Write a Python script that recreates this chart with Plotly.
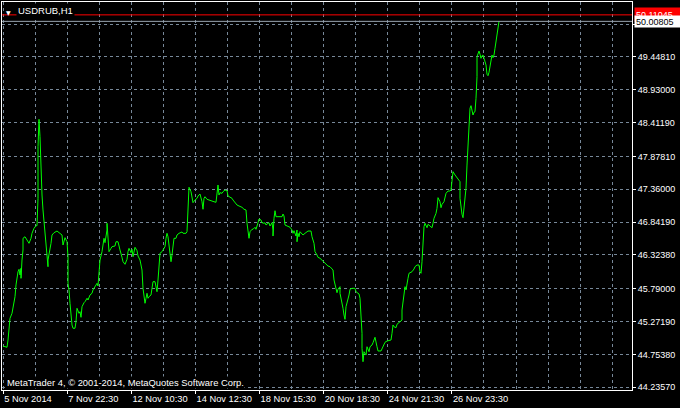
import plotly.graph_objects as go

# ---- data ----
symbol = "USDRUB,H1"
bar = [1,5,6,7,8,10,11,12,13,14,15,16,17,18,19,19,20,21,21,23,25,27,29,30,32,34,35,36,36,37,38,39,40,41,42,43,44,45,46,46,47,49,50,52,55,56,58,60,61,62,63,65,66,66,67,68,69,70,71,73,74,75,77,78,79,80,82,83,85,86,88,90,91,93,95,96,97,98,100,101,102,103,105,105,106,107,109,110,113,114,116,117,118,120,121,123,125,126,127,129,130,131,132,133,135,136,138,139,140,141,142,143,144,145,146,147,149,150,151,153,154,155,156,157,158,160,161,163,164,165,166,167,169,169,170,171,172,174,175,177,180,181,184,185,186,187,189,190,191,193,195,196,198,200,201,202,203,205,207,210,212,214,215,216,217,218,220,221,223,225,226,228,230,231,233,235,237,240,242,244,245,246,247,248,250,251,253,254,255,256,257,259,260,262,263,264,266,267,268,270,271,271,272,273,274,276,279,280,281,282,283,285,286,288,290,291,292,294,295,295,296,297,298,300,301,303,305,306,309,310,312,313,315,316,318,320,321,323,325,326,328,330,331,332,334,335,336,338,338,340,341,342,343,344,346,347,348,350,353,354,356,357,358,359,360,360,361,362,364,365,366,367,368,370,371,373,375,376,379,380,382,383,385,389,390,391,392,394,395,396,398,400,400,401,402,403,404,405,406,407,410,412,413,415,417,418,419,420,421,422,422,423,425,426,428,430,431,432,434,435,436,438,439,440,442,443,444,446,448,449,450,451,453,455,456,458,458,459,460,461,462,464,465,466,467,468,469,470,471,472,473,474,475,475,476,477,478,479,480,481,482,483,484,485,486,487,488,489,490,491,492,493,494,495,496,497]
close = [44.887,44.867,44.982,45.192,45.324,45.403,45.487,45.545,45.665,45.850,46.007,46.059,46.097,46.007,46.113,45.955,46.244,46.402,46.586,46.611,46.559,46.507,46.586,46.665,46.744,46.785,46.785,47.217,48.031,48.463,48.189,47.663,47.269,47.033,46.823,46.690,46.507,46.271,46.138,46.244,46.323,46.507,46.638,46.674,46.701,46.690,46.665,46.638,46.480,46.532,46.596,46.532,46.296,45.876,45.771,45.561,45.350,45.219,45.167,45.167,45.271,45.482,45.403,45.428,45.340,45.507,45.570,45.586,45.640,45.613,45.692,45.719,45.771,45.823,45.876,45.834,46.059,46.244,46.375,46.532,46.586,46.517,46.717,46.823,46.507,46.375,46.428,46.454,46.465,46.532,46.532,46.454,46.402,46.286,46.217,46.176,46.255,46.375,46.428,46.359,46.413,46.296,46.375,46.444,46.391,46.307,46.244,46.138,46.086,45.797,45.640,45.561,45.640,45.719,45.640,45.665,45.692,45.834,45.902,45.902,45.834,45.744,45.928,46.165,46.350,46.375,46.402,46.454,46.586,46.665,46.611,46.480,46.296,46.217,46.323,46.454,46.586,46.586,46.638,46.665,46.686,46.665,46.665,46.690,47.138,47.391,47.321,47.217,47.148,47.190,47.217,47.253,47.285,47.163,47.044,47.217,47.242,47.201,47.190,47.163,47.163,47.154,47.359,47.427,47.269,47.305,47.296,47.321,47.348,47.337,47.253,47.233,47.217,47.190,47.148,47.111,47.096,47.075,47.044,47.033,46.823,46.690,46.586,46.690,46.728,46.728,46.760,46.728,46.769,46.832,46.891,46.875,46.832,46.823,46.832,46.796,46.823,46.832,46.780,46.832,46.717,46.622,46.902,47.021,46.927,46.927,46.938,46.927,46.969,46.938,46.796,46.780,46.769,46.760,46.717,46.665,46.706,46.622,46.717,46.532,46.665,46.611,46.690,46.665,46.638,46.665,46.681,46.701,46.701,46.611,46.507,46.375,46.323,46.286,46.271,46.244,46.217,46.192,46.165,46.149,46.138,46.113,46.086,45.928,45.797,45.728,45.782,45.823,45.719,45.586,45.482,45.376,45.308,45.507,45.613,45.692,45.782,45.797,45.797,45.744,45.719,45.708,45.640,45.403,45.088,44.851,44.640,44.797,44.745,44.876,44.835,44.797,44.876,44.903,44.939,45.025,44.876,44.809,44.809,44.851,44.903,44.946,44.966,44.982,45.088,45.219,45.192,45.176,45.230,45.245,45.282,45.297,45.455,45.586,45.755,45.823,45.771,45.838,45.955,46.034,46.059,46.102,46.138,46.165,46.165,46.059,46.034,46.217,46.480,46.665,46.769,46.823,46.753,46.807,46.785,46.753,46.823,46.902,46.980,47.059,47.227,47.163,47.069,47.122,47.163,47.227,47.296,47.332,47.332,47.348,47.558,47.637,47.585,47.542,47.506,47.479,47.217,47.059,46.965,46.911,47.059,47.375,47.742,48.110,48.452,48.637,48.678,48.610,48.531,48.574,48.583,48.794,49.135,49.451,49.488,49.540,49.488,49.425,49.466,49.477,49.425,49.372,49.320,49.173,49.151,49.204,49.320,49.435,49.477,49.435,49.477,49.583,49.714,49.820,49.898,50.008]

bid = 50.00805
ask = 50.11045

time_tick_bars = [1.2, 65.3, 129.4, 193.5, 257.6, 321.7, 385.8, 449.9]
time_tick_labels = ["5 Nov 2014", "7 Nov 22:30", "12 Nov 10:30", "14 Nov 12:30",
                    "18 Nov 15:30", "20 Nov 18:30", "24 Nov 21:30", "26 Nov 23:30"]
grid_bars = [33.25, 97.35, 161.45, 225.55, 289.65, 353.75, 417.85, 481.95,
             514.0, 546.05, 578.1, 610.15]

price_ticks = [44.2357, 44.7538, 45.2719, 45.7900, 46.3238, 46.8419, 47.3600,
               47.8781, 48.4119, 48.9300, 49.4481, 49.9662]
price_labels = ["44.23570", "44.75380", "45.27190", "45.79000", "46.32380", "46.84190",
                "47.36000", "47.87810", "48.41190", "48.93000", "49.44810", ""]

copyright_text = "MetaTrader 4, © 2001-2014, MetaQuotes Software Corp."

# ---- styling ----
FONT = "Liberation Sans"
GRID = "#778899"
fig = go.Figure()
fig.add_trace(go.Scatter(x=bar, y=close, mode="lines",
                         line=dict(color="#00FF00", width=1), hoverinfo="skip"))

fig.update_layout(
    width=680, height=408,
    margin=dict(l=2, r=48, t=2, b=18),
    paper_bgcolor="black", plot_bgcolor="black",
    showlegend=False,
    font=dict(family=FONT, size=9, color="white"),
    xaxis=dict(range=[0, 630], showline=True, mirror=True, linecolor="white", linewidth=1,
               ticks="outside", ticklen=3, tickcolor="white",
               tickvals=time_tick_bars, ticktext=time_tick_labels,
               ticklabelposition="outside right", tickangle=0,
               tickfont=dict(family=FONT, size=9.3, color="white"),
               showgrid=True, gridcolor=GRID, griddash="3px,3px", gridwidth=1,
               minor=dict(tickvals=grid_bars, showgrid=True, gridcolor=GRID,
                          griddash="3px,3px", gridwidth=1, ticks=""),
               zeroline=False, fixedrange=True, automargin=False),
    yaxis=dict(range=[44.1934, 50.3133], side="right", showline=True, mirror=True,
               linecolor="white", linewidth=1,
               ticks="outside", ticklen=3, tickcolor="white",
               tickvals=price_ticks, ticktext=price_labels,
               tickfont=dict(family=FONT, size=9, color="white"),
               showgrid=True, gridcolor=GRID, griddash="3px,3px", gridwidth=1,
               zeroline=False, fixedrange=True, automargin=False),
    shapes=[
        dict(type="line", xref="paper", x0=0, x1=1, yref="y", y0=ask, y1=ask,
             line=dict(color="#FF0000", width=1)),
        dict(type="line", xref="paper", x0=0, x1=1, yref="y", y0=bid, y1=bid,
             line=dict(color="#9aa6b2", width=1)),
    ],
    annotations=[
        dict(text=symbol, xref="paper", yref="paper", x=0, y=1, xanchor="left",
             yanchor="top", xshift=14, yshift=-1, showarrow=False, bgcolor="black",
             borderpad=1, font=dict(family=FONT, size=9.5, color="white")),
        dict(text="▼", xref="paper", yref="paper", x=0, y=1, xanchor="left",
             yanchor="top", xshift=2, yshift=-5, showarrow=False,
             font=dict(family="DejaVu Sans", size=6, color="white")),
        dict(text=copyright_text, xref="paper", yref="paper", x=0, y=0,
             xanchor="left", yanchor="bottom", xshift=4, yshift=1, showarrow=False,
             bgcolor="black", borderpad=0,
             font=dict(family=FONT, size=9.4, color="white")),
        dict(text=f"{ask:.5f}", xref="paper", yref="y", x=1, y=ask, xanchor="left",
             yanchor="middle", xshift=2, showarrow=False, bgcolor="#FF0000",
             width=44, height=11, align="left",
             font=dict(family=FONT, size=9, color="white")),
        dict(text=f"{bid:.5f}", xref="paper", yref="y", x=1, y=bid, xanchor="left",
             yanchor="middle", xshift=2, showarrow=False, bgcolor="white",
             width=44, height=9, align="left",
             font=dict(family=FONT, size=9, color="black")),
    ],
)

fig.write_html("out.html", config={"displayModeBar": False})

# remove the browser's default page margin so the figure sits at the window's corner
with open("out.html", encoding="utf-8") as f:
    html = f.read()
html = html.replace("<head>", "<head><style>html,body{margin:0;padding:0;background:#000;}</style>", 1)
with open("out.html", "w", encoding="utf-8") as f:
    f.write(html)
